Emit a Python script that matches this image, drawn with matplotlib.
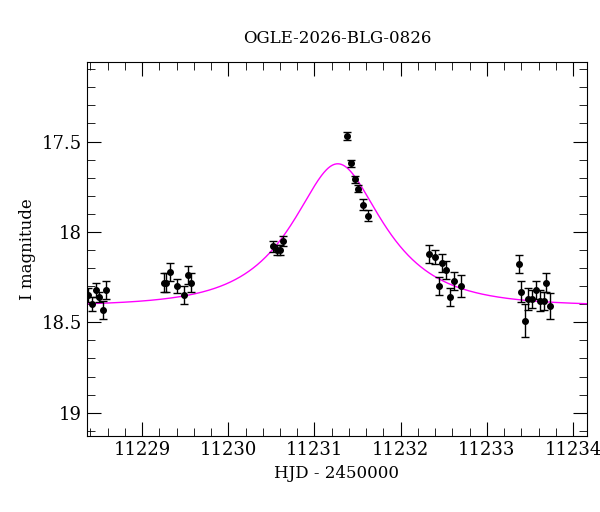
import numpy as np
import matplotlib
matplotlib.use('Agg')
import matplotlib.pyplot as plt
from matplotlib.ticker import MultipleLocator

# observed photometry (HJD - 2450000, I mag, error)
hjd = [11228.37, 11228.42, 11228.46, 11228.50, 11228.54, 11228.58,
       11229.25, 11229.28, 11229.32, 11229.41, 11229.49, 11229.53, 11229.57,
       11230.52, 11230.57, 11230.60, 11230.64,
       11231.38, 11231.42, 11231.47, 11231.51, 11231.56, 11231.62,
       11232.33, 11232.40, 11232.44, 11232.48, 11232.53, 11232.57, 11232.62, 11232.70,
       11233.37, 11233.40, 11233.44, 11233.48, 11233.52, 11233.57, 11233.62,
       11233.66, 11233.69, 11233.73]
mag = [18.35, 18.40, 18.32, 18.36, 18.43, 18.32,
       18.28, 18.28, 18.22, 18.30, 18.35, 18.24, 18.28,
       18.08, 18.10, 18.10, 18.05,
       17.47, 17.62, 17.71, 17.76, 17.85, 17.91,
       18.12, 18.14, 18.30, 18.17, 18.21, 18.36, 18.27, 18.30,
       18.18, 18.33, 18.49, 18.37, 18.37, 18.32, 18.38,
       18.38, 18.28, 18.41]
err = [0.04, 0.04, 0.04, 0.03, 0.05, 0.05,
       0.05, 0.05, 0.05, 0.04, 0.05, 0.05, 0.05,
       0.03, 0.03, 0.03, 0.03,
       0.02, 0.02, 0.02, 0.02, 0.03, 0.03,
       0.05, 0.04, 0.05, 0.05, 0.05, 0.05, 0.05, 0.06,
       0.05, 0.06, 0.09, 0.06, 0.05, 0.05, 0.06,
       0.05, 0.05, 0.07]

# point-lens model parameters
t0 = 11231.27
u0 = 0.535
tE = 0.88
base = 18.41


def model(t):
    u = np.sqrt(u0 ** 2 + ((t - t0) / tE) ** 2)
    amp = (u ** 2 + 2) / (u * np.sqrt(u ** 2 + 4))
    return base - 2.5 * np.log10(amp)


plt.rcParams['font.family'] = 'DejaVu Serif'
fig = plt.figure(figsize=(6, 5.12), dpi=100)
ax = fig.add_axes([0.145, 0.148, 0.833, 0.731])

tt = np.linspace(11228.36, 11234.16, 600)
ax.plot(tt, model(tt), color='magenta', lw=1)
ax.errorbar(hjd, mag, yerr=err, fmt='o', color='black', ms=4,
            elinewidth=1, capsize=3, capthick=1)

ax.set_xlim(11228.36, 11234.16)
ax.set_ylim(19.13, 17.06)
ax.xaxis.set_major_locator(MultipleLocator(1))
ax.xaxis.set_minor_locator(MultipleLocator(0.2))
ax.yaxis.set_major_locator(MultipleLocator(0.5))
ax.yaxis.set_minor_locator(MultipleLocator(0.1))
ax.tick_params(which='both', direction='in', top=True, right=True, labelsize=13)
ax.tick_params(which='major', length=10)
ax.tick_params(which='minor', length=6)
ax.xaxis.get_major_formatter().set_useOffset(False)
ax.yaxis.set_major_formatter(plt.FuncFormatter(lambda v, p: f'{v:g}'))
ax.set_xlabel('HJD - 2450000', fontsize=12)
ax.set_ylabel('I magnitude', fontsize=12)
ax.set_title('OGLE-2026-BLG-0826', fontsize=12, pad=14)

fig.savefig('out.png')
